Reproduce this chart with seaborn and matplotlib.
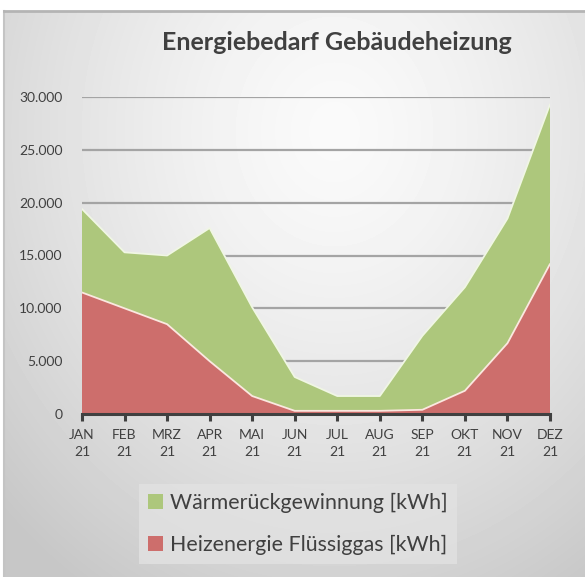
import numpy as np
import matplotlib
matplotlib.use("Agg")
import matplotlib.pyplot as plt
import matplotlib.ticker as mticker
import seaborn as sns

# data
monate = ["JAN\n21", "FEB\n21", "MRZ\n21", "APR\n21", "MAI\n21", "JUN\n21",
          "JUL\n21", "AUG\n21", "SEP\n21", "OKT\n21", "NOV\n21", "DEZ\n21"]
heizenergie = [11500, 10000, 8500, 5000, 1700, 300, 300, 300, 400, 2200, 6700, 14200]
waermerueck = [7900, 5300, 6500, 12600, 8400, 3200, 1400, 1400, 7000, 9800, 11800, 15100]
y_ticks = [0, 5000, 10000, 15000, 20000, 25000, 30000]

sns.set_theme(style="white")
plt.rcParams['font.family'] = ['Lato', 'DejaVu Sans']

W, H = 585, 577
fig = plt.figure(figsize=(W / 100, H / 100), dpi=100)
fig.patch.set_facecolor("white")

# panel with radial grey gradient
bg = fig.add_axes([4 / W, 0, 1 - 4 / W, 1 - 11 / H])
yy, xx = np.mgrid[0:566, 0:581]
d = np.sqrt(((xx - 330) / 430.0) ** 2 + ((yy - 120) / 500.0) ** 2)
shade = np.clip(0.98 - 0.18 * d ** 1.4, 0.78, 0.98)
bg.imshow(shade, cmap="gray", vmin=0, vmax=1, aspect="auto", interpolation="bilinear")
bg.set_xticks([])
bg.set_yticks([])
for s in bg.spines.values():
    s.set_visible(False)
bg.spines["top"].set_visible(True)
bg.spines["left"].set_visible(True)
bg.spines["top"].set_color("#b4b4b4")
bg.spines["left"].set_color("#c4c4c4")
bg.spines["top"].set_linewidth(2)
bg.spines["left"].set_linewidth(1.5)

ax = fig.add_axes([82 / W, 1 - 414 / H, 468 / W, 317 / H])
ax.patch.set_alpha(0)
x = np.arange(len(monate))

ax.stackplot(x, heizenergie, waermerueck,
             colors=["#cd6e6c", "#adc77c"],
             labels=["Heizenergie Flüssiggas [kWh]", "Wärmerückgewinnung [kWh]"],
             edgecolor="none", zorder=2)
handles, labels = ax.get_legend_handles_labels()
total = np.array(heizenergie) + np.array(waermerueck)
sns.lineplot(x=x, y=heizenergie, ax=ax, color="#fbe8e0", linewidth=1.3, zorder=3, legend=False)
sns.lineplot(x=x, y=total, ax=ax, color="#f0f6e4", linewidth=1.3, zorder=3, legend=False)
if ax.get_legend() is not None:
    ax.get_legend().remove()

ax.set_xlim(0, 11)
ax.set_ylim(0, 30000)
ax.set_yticks(y_ticks)
ax.yaxis.set_major_formatter(mticker.FuncFormatter(lambda v, p: f"{int(v):,}".replace(",", ".")))
ax.set_xticks(x)
ax.set_xticklabels(monate, linespacing=1.45)
ax.grid(axis="y", color="#a4a4a4", linewidth=1.6, zorder=0)
ax.set_axisbelow(True)
for s in ["top", "right", "left"]:
    ax.spines[s].set_visible(False)
ax.spines["bottom"].set_color("#404040")
ax.spines["bottom"].set_linewidth(2.2)
ax.spines["bottom"].set_zorder(4)
ax.tick_params(axis="x", colors="#404040", labelsize=10, length=5, width=2.2,
               direction="out", pad=6, bottom=True)
ax.tick_params(axis="y", colors="#404040", labelsize=10, length=0, pad=14)

fig.text(337 / W, 1 - 42 / H, "Energiebedarf Gebäudeheizung", ha="center", va="center",
         fontsize=18, fontweight="bold", color="#404040")

leg = fig.legend(handles[::-1], labels[::-1], loc="center", bbox_to_anchor=(298 / W, 1 - 524 / H),
                 fontsize=15.4, frameon=True, fancybox=False, handlelength=0.7, handleheight=0.7,
                 handletextpad=0.3, labelspacing=1.0, borderpad=0.45, labelcolor="#404040")
leg.get_frame().set_facecolor("#e2e2e2")
leg.get_frame().set_edgecolor("none")
leg.get_frame().set_alpha(0.8)

fig.savefig("out.png", dpi=100)
